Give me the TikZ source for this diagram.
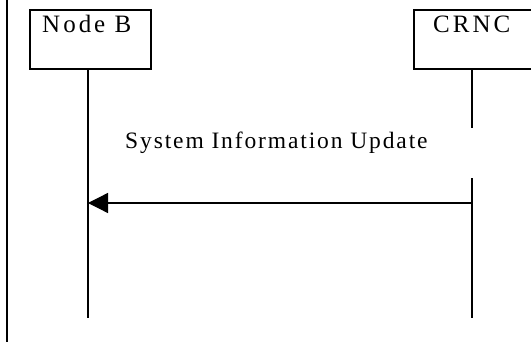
\documentclass[tikz,border=0pt]{standalone}
\usepackage{fontspec}
\usetikzlibrary{arrows.meta}
\newfontfamily\headfont[LetterSpace=12]{Liberation Serif}
\newfontfamily\msgfont[LetterSpace=8]{Liberation Serif}
\tikzset{
  entity/.style={draw, line width=1.3pt, minimum width=#1, minimum height=59pt, inner sep=0pt},
  headtext/.style={anchor=base west, inner sep=0pt, font=\headfont\fontsize{25}{29}\selectfont},
  msgtext/.style={anchor=base west, inner sep=0pt, font=\msgfont\fontsize{23.5}{28}\selectfont},
  lifeline/.style={line width=1.4pt},
  msgarrow/.style={line width=1.3pt, -{Triangle[length=20pt,width=20pt]}},
}
\begin{document}
\begin{tikzpicture}[x=1pt, y=-1pt]
  \clip (0,0) rectangle (531,342);
  \fill[white] (0,0) rectangle (531,342);

  % frame edge on the left
  \coordinate (edgetop) at (7,0);
  \coordinate (edgebot) at (7,342);
  \draw[line width=2pt] (edgetop) -- (edgebot);

  % entities
  \node[entity=121pt] (nb) at (90.5,39.5) {};
  \node[headtext] (nbtext) at (42,33) {Node B};
  \node[entity=150pt] (crnc) at (489,39.5) {};
  \node[headtext] (crnctext) at (433,33) {CRNC};

  % lifelines
  \coordinate (nbend) at (88,318);
  \coordinate (crncend) at (472,318);
  \draw[lifeline] (nb.south -| nbend) -- (nbend);
  \draw[lifeline] (crnc.south -| crncend) -- (crncend);

  % message label on a white ground
  \fill[white] (110,128) rectangle (473,178);
  \node[msgtext] (msg) at (125,149) {System Information Update};

  % message arrow
  \coordinate (nbmsg) at (88,203);
  \coordinate (crncmsg) at (472,203);
  \draw[msgarrow] (crncmsg) -- (nbmsg);
\end{tikzpicture}
\end{document}
